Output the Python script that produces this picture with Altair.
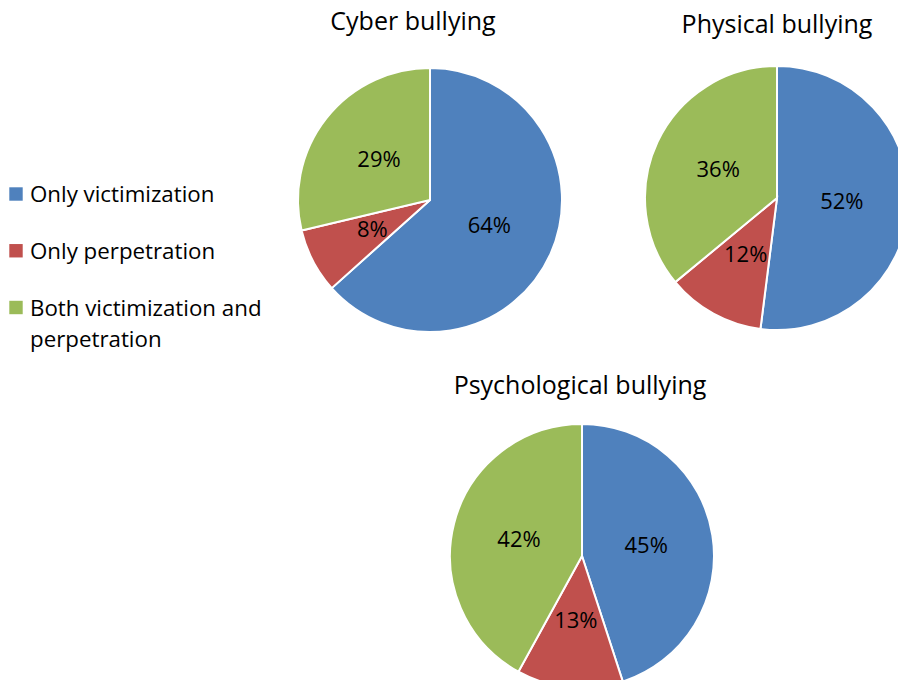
import altair as alt
import pandas as pd

charts = ["Cyber bullying", "Physical bullying", "Psychological bullying"]
categories = ["Only victimization", "Only perpetration", "Both victimization and perpetration"]
legend_labels = ["Only victimization", "Only perpetration", "Both victimization and\nperpetration"]
colors = ["#4F81BD", "#C0504D", "#9BBB59"]

cyber = [64, 8, 29]
physical = [52, 12, 36]
psychological = [45, 13, 42]
values = [cyber, physical, psychological]

rows = []
for c, vals in zip(charts, values):
    for i, (cat, v) in enumerate(zip(categories, vals)):
        rows.append({"chart": c, "category": cat, "value": v, "order": i, "label": f"{v}%"})
df = pd.DataFrame(rows)
df_titles = pd.DataFrame({"chart": charts})
df_legend = pd.DataFrame({"category": categories, "label": legend_labels})

FONT = "Open Sans"
color_scale = alt.Scale(domain=categories, range=colors)

# pie centers (chart coordinates) and title baselines
layout = {
    "Cyber bullying": dict(cx=422, cy=192, tx=405, ty=22),
    "Physical bullying": dict(cx=769, cy=190, tx=769, ty=25),
    "Psychological bullying": dict(cx=574, cy=548, tx=572, ty=386),
}
R = 132

layers = []
for c in charts:
    L = layout[c]
    base = alt.Chart(df).transform_filter(alt.datum.chart == c)
    pie = base.mark_arc(outerRadius=R, stroke="white", strokeWidth=2).encode(
        theta=alt.Theta("value:Q", stack="normalize"),
        order=alt.Order("order:Q"),
        color=alt.Color("category:N", scale=color_scale, legend=None),
        x=alt.value(L["cx"]),
        y=alt.value(L["cy"]),
    )
    lbl = base.mark_text(radius=65, font=FONT, fontSize=22, color="black").encode(
        theta=alt.Theta("value:Q", stack="normalize"),
        order=alt.Order("order:Q"),
        text="label:N",
        x=alt.value(L["cx"]),
        y=alt.value(L["cy"]),
    )
    title = alt.Chart(df_titles).transform_filter(alt.datum.chart == c).mark_text(
        font=FONT, fontSize=25, color="black", align="center", baseline="alphabetic"
    ).encode(text="chart:N", x=alt.value(L["tx"]), y=alt.value(L["ty"]))
    layers += [pie, lbl, title]

ypos = alt.Y("category:N", scale=alt.Scale(type="point", domain=categories, range=[186, 299.5], padding=0), axis=None)
leg_sq = alt.Chart(df_legend).mark_square(size=180, opacity=1).encode(
    x=alt.value(8),
    y=ypos,
    color=alt.Color("category:N", scale=color_scale, legend=None),
)
leg_tx = alt.Chart(df_legend).mark_text(
    font=FONT, fontSize=22.3, color="black", align="left", baseline="alphabetic",
    dy=8, lineBreak="\n", lineHeight=31,
).encode(x=alt.value(22), y=ypos, text="label:N")
layers += [leg_sq, leg_tx]

chart = alt.layer(*layers).properties(
    width=890, height=672, autosize=alt.AutoSizeParams(type="none"), padding=0
).resolve_scale(theta="independent").configure_view(stroke=None)

chart.save("out.html", embed_options={"renderer": "svg", "actions": False})
